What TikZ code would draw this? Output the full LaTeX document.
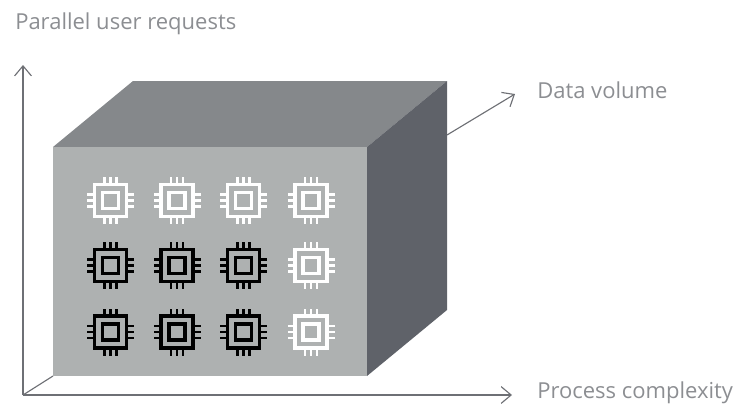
\documentclass[tikz,border=0pt]{standalone}
\usepackage{fontspec}
\usepackage{xcolor}
\setmainfont{Open Sans}
\usetikzlibrary{arrows.meta, positioning}
\definecolor{axisgrey}{HTML}{6E7075}
\definecolor{labelgrey}{HTML}{8C8E92}
\definecolor{frontgrey}{HTML}{AEB1B1}
\definecolor{topgrey}{HTML}{85888B}
\definecolor{sidegrey}{HTML}{5F6269}
\tikzset{
  axis/.style={draw=axisgrey, line width=0.85pt, -{Straight Barb[length=7.5pt,width=15pt,angle'=80]}},
  axisplain/.style={draw=axisgrey, line width=0.85pt},
  axislabel/.style={text=labelgrey, font=\fontsize{16.5}{20}\selectfont, anchor=base west, inner sep=0pt},
  chip/.pic={
    \draw[line width=2.5pt, pic actions] (-16,-16) rectangle (16,16);
    \draw[line width=2.5pt, pic actions] (-8,-8) rectangle (8,8);
    \foreach \p in {-6,0,6}{
      \draw[line width=2pt, pic actions] (\p,-16) -- (\p,-23.5);
      \draw[line width=2pt, pic actions] (\p,16) -- (\p,23.5);
      \draw[line width=2pt, pic actions] (-16,\p) -- (-23.5,\p);
      \draw[line width=2pt, pic actions] (16,\p) -- (23.5,\p);
    }
  }
}
\begin{document}
\begin{tikzpicture}[x=0.75pt, y=-0.75pt]
  \useasboundingbox (0,0) rectangle (734,407);
  \coordinate (origin) at (23,395);
  \coordinate (up_end) at (23,65);
  \coordinate (right_end) at (512,395);
  \coordinate (depth_start) at (447,135);
  \coordinate (depth_end) at (515,94);
  \coordinate (f_tl) at (53,147);
  \coordinate (f_tr) at (367,147);
  \coordinate (f_br) at (367,376);
  \coordinate (f_bl) at (53,376);
  \coordinate (b_tl) at (133,81);
  \coordinate (b_tr) at (447,81);
  \coordinate (b_br) at (447,310);
  % axes
  \draw[axis] (origin) -- (up_end);
  \draw[axis] (origin) -- (right_end);
  \draw[axisplain] (origin) -- (f_bl);
  \draw[axis] (depth_start) -- (depth_end);
  % box
  \fill[topgrey] (f_tl) -- (b_tl) -- (b_tr) -- (f_tr) -- cycle;
  \fill[sidegrey] (f_tr) -- (b_tr) -- (b_br) -- (f_br) -- cycle;
  \fill[frontgrey] (f_tl) -- (f_tr) -- (f_br) -- (f_bl) -- cycle;
  % chips
  \foreach \x/\y/\c/\n in {110.5/200.5/white/a1, 177/200.5/white/a2, 243.5/200.5/white/a3, 311/200.5/white/a4,
                           110.5/265.5/black/b1, 177/265.5/black/b2, 243.5/265.5/black/b3, 311/265.5/white/b4,
                           110.5/332/black/c1, 177/332/black/c2, 243.5/332/black/c3, 311/332/white/c4}
    \pic (chip_\n) [draw=\c] at (\x,\y) {chip};
  % labels
  \node[axislabel] (requests_label) at (15,29) {Parallel user requests};
  \node[axislabel] (volume_label) at (537,98) {Data volume};
  \node[axislabel] (complexity_label) at (537,398) {Process complexity};
\end{tikzpicture}
\end{document}
